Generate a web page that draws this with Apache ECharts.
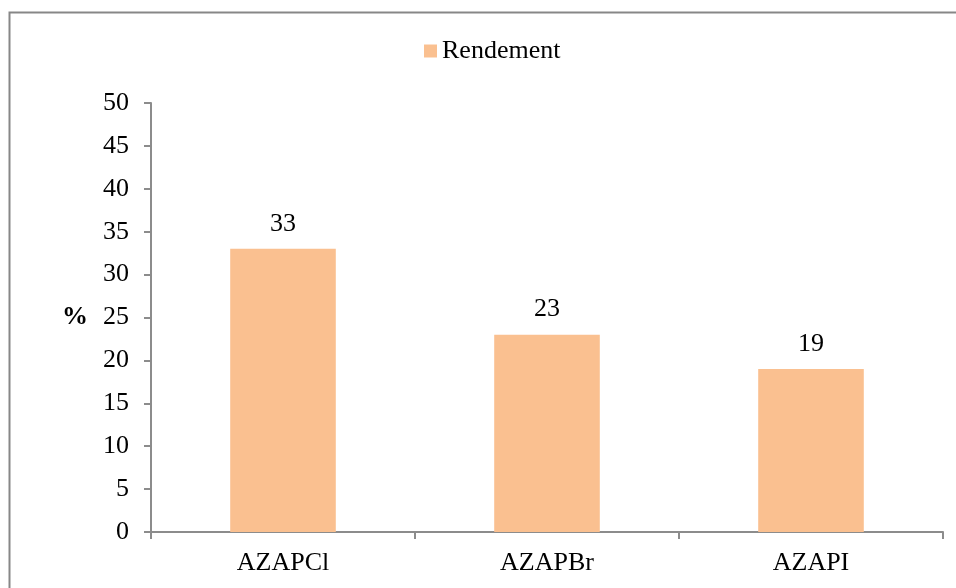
<!DOCTYPE html>
<html>
<head>
<meta charset="utf-8">
<script src="https://cdn.jsdelivr.net/npm/echarts@6/dist/echarts.min.js"></script>
<style>
  html, body { margin: 0; padding: 0; background: #ffffff; }
  #chart { width: 956px; height: 588px; }
</style>
</head>
<body>
<div id="chart"></div>
<script>
// Reaction yields per compound
const categories = ['AZAPCl', 'AZAPBr', 'AZAPI'];
const rendement = [33, 23, 19];
const seriesName = 'Rendement';
const yMin = 0, yMax = 50, yStep = 5;

const FONT = '"Liberation Serif", "Times New Roman", serif';
const AXIS_GRAY = '#8c8c8c';
const BAR_COLOR = '#FAC090';
const FS = 26;

const chart = echarts.init(document.getElementById('chart'), null, { renderer: 'canvas' });

chart.setOption({
  backgroundColor: '#ffffff',
  animation: false,
  textStyle: { fontFamily: FONT, color: '#000' },
  graphic: [{
    type: 'rect',
    shape: { x: 9.5, y: 12.5, width: 1000, height: 700 },
    style: { fill: 'none', stroke: '#878787', lineWidth: 2 },
    silent: true,
    z: -10
  }],
  legend: {
    data: [seriesName],
    left: 419,
    top: 33,
    icon: 'rect',
    itemWidth: 13,
    itemHeight: 13,
    textStyle: { fontFamily: FONT, fontSize: FS, color: '#000' }
  },
  grid: { left: 151, right: 13, top: 103, bottom: 56, containLabel: false },
  xAxis: {
    type: 'category',
    data: categories,
    boundaryGap: true,
    axisLine: { lineStyle: { color: AXIS_GRAY, width: 2 } },
    axisTick: { show: true, length: 7, alignWithLabel: false, lineStyle: { color: AXIS_GRAY, width: 2 } },
    axisLabel: { fontFamily: FONT, fontSize: FS, color: '#000', margin: 18 }
  },
  yAxis: {
    type: 'value',
    min: yMin,
    max: yMax,
    interval: yStep,
    name: '%',
    nameLocation: 'middle',
    nameRotate: 0,
    nameGap: 63,
    nameTextStyle: { fontFamily: FONT, fontSize: FS, fontWeight: 'bold', color: '#000' },
    splitLine: { show: false },
    axisLine: { show: true, lineStyle: { color: AXIS_GRAY, width: 2 } },
    axisTick: { show: true, length: 7, lineStyle: { color: AXIS_GRAY, width: 2 } },
    axisLabel: { fontFamily: FONT, fontSize: FS, color: '#000', margin: 22 }
  },
  series: [{
    name: seriesName,
    type: 'bar',
    data: rendement,
    barWidth: '40%',
    itemStyle: { color: BAR_COLOR },
    label: {
      show: true,
      position: 'top',
      distance: 12,
      fontFamily: FONT,
      fontSize: FS,
      color: '#000'
    }
  }]
});
</script>
</body>
</html>
